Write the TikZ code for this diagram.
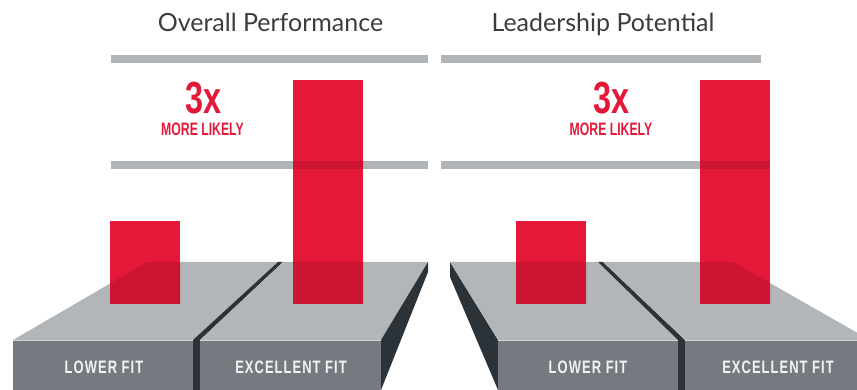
\documentclass[tikz,border=0pt]{standalone}
\usepackage{fontspec}
\usepackage{graphicx}
\setmainfont{Lato}
\newfontfamily\condf[LetterSpace=8]{Liberation Sans}
\newfontfamily\condn{Liberation Sans}
\definecolor{barGray}{HTML}{B1B5B8}
\definecolor{topGray}{HTML}{B2B6B9}
\definecolor{frontGray}{HTML}{757A80}
\definecolor{darkSide}{HTML}{2B3338}
\definecolor{hiGray}{HTML}{D2D5D7}
\definecolor{redMain}{HTML}{E4193A}
\definecolor{redDark}{HTML}{CD1430}
\definecolor{titleCol}{HTML}{3C3C3C}
\definecolor{labelCol}{HTML}{F2F2F2}
\tikzset{
  topface/.style={fill=topGray},
  frontface/.style={fill=frontGray},
  darkface/.style={fill=darkSide},
  rule/.style={fill=barGray},
  redbar/.style={fill=redMain},
  hiline/.style={draw=hiGray,line width=0.8pt},
  titletxt/.style={anchor=base,inner sep=0pt,text=titleCol,font=\fontsize{25}{25}\selectfont},
  bigtxt/.style={anchor=base,inner sep=0pt,text=redMain},
  labeltxt/.style={anchor=base,inner sep=0pt,text=labelCol}
}
\newcommand{\lbltext}[1]{\scalebox{0.72}[1]{\fontsize{18}{18}\selectfont\condf\bfseries #1}}
\newcommand{\bigx}{\scalebox{0.72}[1]{\fontsize{45}{45}\selectfont\condn\bfseries 3x}}
\newcommand{\morelikely}{\scalebox{0.68}[1]{\fontsize{18}{18}\selectfont\condn\bfseries MORE LIKELY}}
\begin{document}
\begin{tikzpicture}[x=1pt,y=-1pt]
\useasboundingbox (0,0) rectangle (857,390);
\clip (0,0) rectangle (857,390);
% titles
\node[titletxt] (tL) at (270.5,31.7) {Overall Performance};
\node[titletxt] (tR) at (603,31.7) {Leadership Potential};
% rules
\fill[rule] (111,55) rectangle (428,63);
\fill[rule] (111,161) rectangle (428,169);
\fill[rule] (441,55) rectangle (761,63);
\fill[rule] (441,161) rectangle (770,169);
% left platform
\fill[topface] (147,262) -- (278,262) -- (193,340) -- (13,340) -- cycle;
\fill[frontface] (13,340) rectangle (193,390);
\fill[darkface] (278,262) -- (283,262) -- (200,340) -- (200,390) -- (193,390) -- (193,340) -- cycle;
\fill[topface] (283,262) -- (428,262) -- (381,340) -- (200,340) -- cycle;
\fill[frontface] (200,340) rectangle (381,390);
\fill[darkface] (428,262) -- (428,272) -- (381,390) -- (381,340) -- cycle;
\draw[hiline] (13,340) -- (193,340);
\draw[hiline] (200,340) -- (381,340);
% right platform
\fill[darkface] (450,262) -- (450,277) -- (498,390) -- (498,340) -- cycle;
\fill[topface] (450,262) -- (598,262) -- (678,340) -- (498,340) -- cycle;
\fill[frontface] (498,340) rectangle (678,390);
\fill[darkface] (598,262) -- (603,262) -- (685,340) -- (685,390) -- (678,390) -- (678,340) -- cycle;
\fill[topface] (603,262) -- (733,262) -- (870,340) -- (685,340) -- cycle;
\fill[frontface] (685,340) rectangle (870,390);
\draw[hiline] (498,340) -- (678,340);
\draw[hiline] (685,340) -- (870,340);
% red bars
\foreach \xa/\ya in {110/221, 293/80, 516/221, 700/80}{
  \fill[redbar] (\xa,\ya) rectangle ({\xa+70},303);
  \begin{scope}
    \clip (\xa,\ya) rectangle ({\xa+70},303);
    \fill[redDark] (147,262) -- (278,262) -- (193,340) -- (13,340) -- cycle;
    \fill[redDark] (283,262) -- (428,262) -- (381,340) -- (200,340) -- cycle;
    \fill[redDark] (450,262) -- (598,262) -- (678,340) -- (498,340) -- cycle;
    \fill[redDark] (603,262) -- (733,262) -- (870,340) -- (685,340) -- cycle;
    \fill[redDark] (111,161) rectangle (428,169);
    \fill[redDark] (441,161) rectangle (770,169);
  \end{scope}
}
% 3x texts
\node[bigtxt] (xL) at (203.5,114) {\bigx};
\node[bigtxt] (mL) at (202.5,136) {\morelikely};
\node[bigtxt] (xR) at (611.3,114) {\bigx};
\node[bigtxt] (mR) at (611,136) {\morelikely};
% labels
\node[labeltxt] (lL1) at (104,373) {\lbltext{LOWER FIT}};
\node[labeltxt] (lL2) at (291,373) {\lbltext{EXCELLENT FIT}};
\node[labeltxt] (lR1) at (588,373) {\lbltext{LOWER FIT}};
\node[labeltxt] (lR2) at (778,373) {\lbltext{EXCELLENT FIT}};
\end{tikzpicture}
\end{document}
